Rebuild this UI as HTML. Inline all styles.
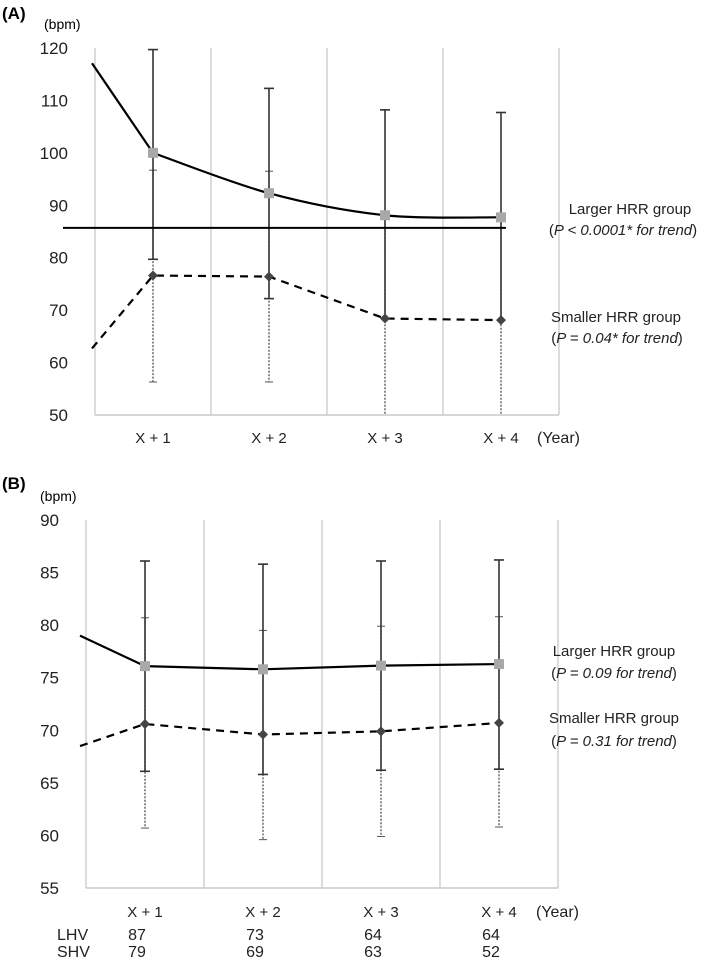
<!DOCTYPE html>
<html><head><meta charset="utf-8"><style>
body{margin:0;background:#fff;}
svg{display:block;font-family:"Liberation Sans",sans-serif;}
</style></head><body>
<svg id="chart" width="709" height="961" viewBox="0 0 709 961" xmlns="http://www.w3.org/2000/svg">
<text x="2" y="19" font-size="17" font-weight="bold">(A)</text>
<text x="44" y="29" font-size="14">(bpm)</text>
<text x="2" y="489" font-size="17" font-weight="bold">(B)</text>
<text x="40" y="501" font-size="14">(bpm)</text>
<g id="pa"></g><g id="pb"></g>
<g font-size="15" fill="#222">
<text x="630" y="214" text-anchor="middle">Larger HRR group</text>
<text x="623" y="235" text-anchor="middle">(<tspan font-style="italic">P &lt; 0.0001*  for trend</tspan>)</text>
<text x="616" y="322" text-anchor="middle">Smaller HRR group</text>
<text x="617" y="343" text-anchor="middle">(<tspan font-style="italic">P = 0.04* for trend</tspan>)</text>
<text x="614" y="656" text-anchor="middle">Larger HRR group</text>
<text x="614" y="678" text-anchor="middle">(<tspan font-style="italic">P = 0.09  for trend</tspan>)</text>
<text x="614" y="723" text-anchor="middle">Smaller HRR group</text>
<text x="614" y="746" text-anchor="middle">(<tspan font-style="italic">P = 0.31  for trend</tspan>)</text>
<text x="537" y="443" font-size="16">(Year)</text>
<text x="536" y="917" font-size="16">(Year)</text>
<text x="57" y="940" font-size="16">LHV</text>
<text x="57" y="957" font-size="16">SHV</text>
</g>
</svg>
<script>
const categories=["X+1","X+2","X+3","X+4"];
const aLarger=[100,92.3,88.1,87.7];
const aLargerHi=[119.7,112.3,108.2,107.7];
const aLargerLo=[79.7,72.2,68.4,68.1];
const aLargerStart=117.1;
const aSmaller=[76.6,76.4,68.4,68.1];
const aSmallerHi=[96.7,96.5,88,88];
const aSmallerLo=[56.3,56.3,45,45];
const aSmallerStart=62.7;
const aRef=85.7;
const aTicks=[50,60,70,80,90,100,110,120];
const bLarger=[76.1,75.8,76.15,76.3];
const bLargerHi=[86.1,85.8,86.1,86.2];
const bLargerLo=[66.1,65.8,66.2,66.3];
const bLargerStart=79.0;
const bSmaller=[70.6,69.6,69.9,70.7];
const bSmallerHi=[80.7,79.5,79.9,80.8];
const bSmallerLo=[60.7,59.6,59.9,60.8];
const bSmallerStart=68.5;
const bTicks=[55,60,65,70,75,80,85,90];
const lhv=[87,73,64,64];
const shv=[79,69,63,52];
const NS="http://www.w3.org/2000/svg";
function mk(p,t,a){const e=document.createElementNS(NS,t);for(const k in a)e.setAttribute(k,a[k]);p.appendChild(e);return e;}
function straight(pts){return 'M'+pts.map(p=>p.join(',')).join(' L');}
function smooth(pts){
  let d=`M${pts[0][0]},${pts[0][1]} L${pts[1][0]},${pts[1][1]}`;
  for(let i=1;i<pts.length-1;i++){
    const p0=pts[i-1<1?1:i-1],p1=pts[i],p2=pts[i+1],p3=pts[i+2]||p2;
    const t=0.16;
    const c1=[p1[0]+(p2[0]-p0[0])*t,p1[1]+(p2[1]-p0[1])*t];
    const c2=[p2[0]-(p3[0]-p1[0])*t,p2[1]-(p3[1]-p1[1])*t];
    d+=` C${c1[0]},${c1[1]} ${c2[0]},${c2[1]} ${p2[0]},${p2[1]}`;
  }
  return d;
}
function panel(g,o){
  const y=v=>o.y0+(o.ymax-v)/(o.ymax-o.ymin)*(o.y1-o.y0);
  const bw=(o.xr-o.xl)/categories.length;
  const x=i=>o.xl+bw*(i+0.5);
  for(let i=0;i<=categories.length;i++){
    const gx=o.xl+bw*i;
    const l=mk(g,'line',{x1:gx,x2:gx,y1:o.y0,y2:o.y1,stroke:'#c8c8c8','stroke-width':1.3});
    
    
  }
  const ax=mk(g,'line',{x1:o.xl,x2:o.xr,y1:o.y1,y2:o.y1,stroke:'#c8c8c8','stroke-width':1.5});
  
  
  o.ticks.forEach(t=>{
    const e=mk(g,'text',{x:o.xl-27,y:y(t)+6,'font-size':17,'text-anchor':'end',fill:'#222'});e.textContent=t;
    
    
  });
  categories.forEach((c,i)=>{
    const e=mk(g,'text',{x:x(i),y:o.xlab,'font-size':15,'text-anchor':'middle',fill:'#222'});e.textContent=c.replace('+',' + ');
    
    
  });
  const clipY=v=>Math.min(y(v),o.y1);
  categories.forEach((c,i)=>{
    const l=mk(g,'line',{x1:x(i),x2:x(i),y1:clipY(o.sHi[i]),y2:clipY(o.sLo[i]),stroke:'#444','stroke-width':1.2,'stroke-dasharray':'2,1.5'});
    
    
    [o.sHi[i],o.sLo[i]].forEach(v=>{if(y(v)<o.y1){const cp=mk(g,'line',{x1:x(i)-4,x2:x(i)+4,y1:y(v),y2:y(v),stroke:'#555','stroke-width':1});
      
      }});
  });
  categories.forEach((c,i)=>{
    const l=mk(g,'line',{x1:x(i),x2:x(i),y1:y(o.lHi[i]),y2:y(o.lLo[i]),stroke:'#333','stroke-width':1.6});
    
    
    [o.lHi[i],o.lLo[i]].forEach((v,k)=>{if(!(o.noLoCap&&k==1&&i>1)){const cp=mk(g,'line',{x1:x(i)-5,x2:x(i)+5,y1:y(v),y2:y(v),stroke:'#333','stroke-width':1.6});
      
      }});
  });
  if(o.ref!=null){
    const r=mk(g,'line',{x1:63,x2:506,y1:y(o.ref),y2:y(o.ref),stroke:'#000','stroke-width':2});
    
    
  }
  const lp=[[o.xs,y(o.lStart)]].concat(o.l.map((v,i)=>[x(i),y(v)]));
  const L=mk(g,'path',{d:o.smoothL?smooth(lp):straight(lp),fill:'none',stroke:'#000','stroke-width':2.2});
  
  
  const sp=[[o.xs,y(o.sStart)]].concat(o.s.map((v,i)=>[x(i),y(v)]));
  const S=mk(g,'path',{d:straight(sp),fill:'none',stroke:'#000','stroke-width':2.2,'stroke-dasharray':'8,6'});
  
  
  o.l.forEach((v,i)=>{
    const m=mk(g,'rect',{x:x(i)-5,y:y(v)-5,width:10,height:10,fill:'#a8a8a8'});
    
    
  });
  o.s.forEach((v,i)=>{
    const cx=x(i),cy=y(v);
    const m=mk(g,'polygon',{points:`${cx},${cy-5} ${cx+5},${cy} ${cx},${cy+5} ${cx-5},${cy}`,fill:'#444'});
    
    
  });
  return x;
}
panel(document.getElementById('pa'),{xl:95,xr:559,y0:48,y1:415,ymin:50,ymax:120,ticks:aTicks,xlab:443,xs:92,smoothL:true,
  l:aLarger,lHi:aLargerHi,lLo:aLargerLo,lStart:aLargerStart,s:aSmaller,sHi:aSmallerHi,sLo:aSmallerLo,sStart:aSmallerStart,ref:aRef,noLoCap:true});
const xb=panel(document.getElementById('pb'),{xl:86,xr:558,y0:520,y1:888,ymin:55,ymax:90,ticks:bTicks,xlab:917,xs:80,smoothL:false,
  l:bLarger,lHi:bLargerHi,lLo:bLargerLo,lStart:bLargerStart,s:bSmaller,sHi:bSmallerHi,sLo:bSmallerLo,sStart:bSmallerStart,ref:null});
const svg=document.getElementById('chart');
lhv.forEach((v,i)=>{
  const e=mk(svg,'text',{x:xb(i)-8,y:940,'font-size':16,'text-anchor':'middle',fill:'#222'});e.textContent=v;
  
  
});
shv.forEach((v,i)=>{
  const e=mk(svg,'text',{x:xb(i)-8,y:957,'font-size':16,'text-anchor':'middle',fill:'#222'});e.textContent=v;
  
  
});
</script>
</body></html>
